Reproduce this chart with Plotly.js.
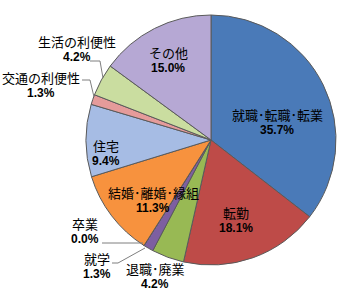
<!DOCTYPE html>
<html>
<head>
<meta charset="utf-8">
<script src="https://cdn.plot.ly/plotly-3.0.1.min.js"></script>
<style>html,body{margin:0;padding:0;background:#fff;}#chart{width:347px;height:304px;}</style>
</head>
<body>
<div id="chart"></div>
<script>
const categories = ["就職･転職･転業", "転勤", "退職･廃業", "就学", "卒業", "結婚･離婚･縁組", "住宅", "交通の利便性", "生活の利便性", "その他"];
const values = [35.7, 18.1, 4.2, 1.3, 0.0, 11.3, 9.4, 1.3, 4.2, 15.0];
const colors = ["#4A7AB8", "#BE4B48", "#98B954", "#7D5FA0", "#7D5FA0", "#F7923E", "#A6BCE4", "#E59B9A", "#CADDA0", "#B6A8D4"];

// label layout (pixel centres of the name line), positions only
const labelPos = [[277,114],[236,212],[155,268],[97,258],[85,223],[153,192],[106,145],[41,77],[77,41],[168,52]];

// plot area: left 86, top 15, size 250
const L = 86, T = 15, S = 250;
const px = x => (x - L) / S;
const py = y => (T + S - y) / S;

const annotations = [];
categories.forEach((c, i) => {
  const [x, y] = labelPos[i];
  annotations.push({xref:'paper', yref:'paper', x:px(x), y:py(y), text:c, showarrow:false,
    xanchor:'center', yanchor:'middle', font:{family:'Noto Sans CJK JP', size:13, color:'#000'}});
  annotations.push({xref:'paper', yref:'paper', x:px(x), y:py(y+16), text:'<b>' + values[i].toFixed(1) + '%</b>', showarrow:false,
    xanchor:'center', yanchor:'middle', font:{family:'Liberation Sans', size:12, color:'#000'}});
});

const leaders = [
  [[90,61],[100,61],[103,78]],
  [[82,80],[90,80],[94,97]],
  [[102,243],[143,243]],
  [[112,263],[118,263],[145,248]]
];
const shapes = leaders.map(pts => ({
  type:'path', xref:'paper', yref:'paper',
  path: pts.map((p, k) => (k ? 'L' : 'M') + px(p[0]) + ',' + py(p[1])).join(' '),
  line:{color:'#7f7f7f', width:1}
}));

const trace = {
  type:'pie', labels:categories, values:values, sort:false, direction:'clockwise', rotation:0,
  marker:{colors:colors, line:{color:'#5a5a5a', width:1}},
  textinfo:'none', hoverinfo:'label+percent', showlegend:false
};

Plotly.newPlot('chart', [trace], {
  width:347, height:304,
  margin:{l:L, r:347 - L - S, t:T, b:304 - T - S, pad:0},
  paper_bgcolor:'#ffffff', plot_bgcolor:'#ffffff',
  annotations:annotations, shapes:shapes, showlegend:false
}, {staticPlot:true});
</script>
</body>
</html>
